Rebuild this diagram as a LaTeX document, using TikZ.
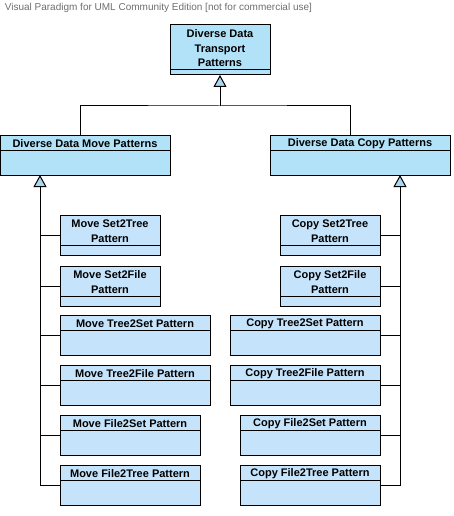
\documentclass[tikz,border=0pt]{standalone}
\usepackage{fontspec}
\setmainfont{Liberation Sans}
\usetikzlibrary{arrows.meta}

\definecolor{abstractblue}{RGB}{178,226,248}
\definecolor{classblue}{RGB}{197,228,252}
\definecolor{tipblue}{RGB}{170,216,240}
\definecolor{headgray}{RGB}{110,110,110}

% fill, name, x, y, width, height, name compartment, text
\newcommand{\umlclass}[8]{%
	\node[umlbox,fill=#1,minimum width=#5pt,minimum height=#6pt] (#2) at (#3,#4) {};
	\draw ([yshift=-#7pt]#2.north west) -- ([yshift=-#7pt]#2.north east);
	\node[umltext] at ([yshift=-#7pt/2-1pt]#2.north) {#8};
}

\begin{document}
\begin{tikzpicture}[x=1pt,y=-1pt,line width=1pt]
	\tikzstyle{umlbox}=[draw,anchor=north west,inner sep=0pt,outer sep=0pt]
	\tikzstyle{umltext}=[font=\fontsize{11}{14.5}\selectfont\bfseries,align=center,inner sep=0pt]
	\tikzstyle{gen}=[-{Triangle[open,fill=tipblue,length=12pt,width=13pt]}]
	\useasboundingbox (0,0) rectangle (454,516);
	\node[anchor=west,text=headgray,font=\fontsize{10}{12}\selectfont] (hdr) at (1,8)
		{Visual Paradigm for UML Community Edition [not for commercial use]};
	\umlclass{abstractblue}{top}{170}{25}{100}{50}{45}{Diverse Data\\Transport\\Patterns}
	\umlclass{abstractblue}{mv}{0}{135}{170}{40}{15}{Diverse Data Move Patterns}
	\umlclass{abstractblue}{cp}{270}{135}{180}{40}{15}{Diverse Data Copy Patterns}
	% move patterns
	\umlclass{classblue}{ms2t}{60}{215}{100}{40}{30}{Move Set2Tree\\Pattern}
	\umlclass{classblue}{ms2f}{60}{266}{100}{40}{30}{Move Set2File\\Pattern}
	\umlclass{classblue}{mt2s}{60}{315}{150}{40}{15}{Move Tree2Set Pattern}
	\umlclass{classblue}{mt2f}{60}{365}{150}{40}{15}{Move Tree2File Pattern}
	\umlclass{classblue}{mf2s}{60}{415}{140}{40}{15}{Move File2Set Pattern}
	\umlclass{classblue}{mf2t}{60}{465}{140}{40}{15}{Move File2Tree Pattern}
	% copy patterns
	\umlclass{classblue}{cs2t}{280}{215}{100}{40}{30}{Copy Set2Tree\\Pattern}
	\umlclass{classblue}{cs2f}{280}{266}{100}{40}{30}{Copy Set2File\\Pattern}
	\umlclass{classblue}{ct2s}{230}{315}{150}{40}{15}{Copy Tree2Set Pattern}
	\umlclass{classblue}{ct2f}{230}{365}{150}{40}{15}{Copy Tree2File Pattern}
	\umlclass{classblue}{cf2s}{240}{415}{140}{40}{15}{Copy File2Set Pattern}
	\umlclass{classblue}{cf2t}{240}{465}{140}{40}{15}{Copy File2Tree Pattern}
	% generalizations
	\coordinate (join) at (220,106);
	\coordinate (mvtip) at (40,175);
	\coordinate (cptip) at (400,175);
	\draw ([xshift=-5pt]mv.north) |- (join) -| ([xshift=-10pt]cp.north);
	\draw[gen] (join) -- (top.south);
	\foreach \c in {ms2t,ms2f,mt2s,mt2f,mf2s}
		\draw (\c.west) -- (\c.west -| mvtip);
	\draw[gen] (mf2t.west) -| (mvtip);
	\foreach \c in {cs2t,cs2f,ct2s,ct2f,cf2s}
		\draw (\c.east) -- (\c.east -| cptip);
	\draw[gen] (cf2t.east) -| (cptip);
\end{tikzpicture}
\end{document}
